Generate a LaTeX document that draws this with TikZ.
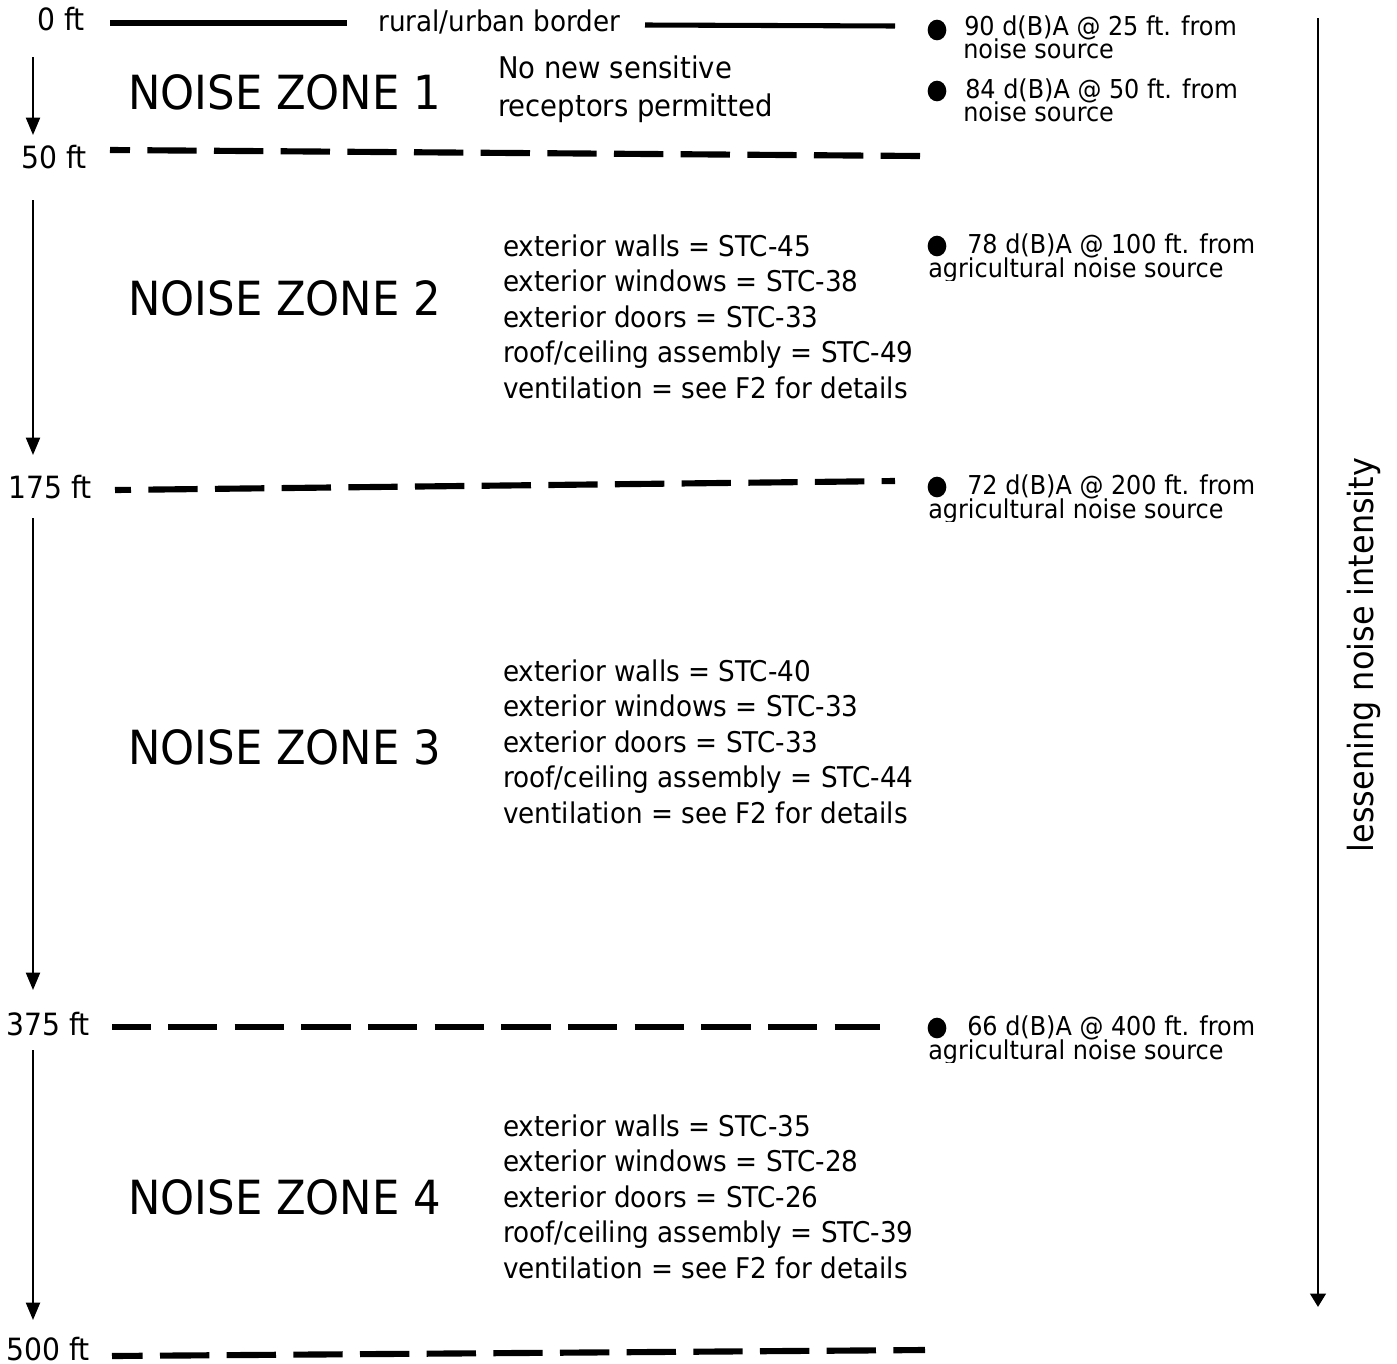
\documentclass[tikz,border=0pt]{standalone}
\usepackage{fontspec}
\setmainfont[FakeStretch=0.92]{DejaVu Sans}
\usetikzlibrary{arrows.meta,shapes.geometric}
\tikzset{
  txt/.style={anchor=base west,inner sep=0pt,font=\fontsize{21.4}{26.6}\selectfont},
  ftlbl/.style={anchor=base east,inner sep=0pt,font=\fontsize{23}{26.6}\selectfont},
  zone/.style={anchor=base west,inner sep=0pt,font=\fontsize{35.3}{40}\selectfont},
  btxt/.style={anchor=base west,inner sep=0pt,font=\fontsize{19.5}{17.2}\selectfont},
  bul/.style={ellipse,fill=black,inner sep=0pt,minimum width=14pt,minimum height=15.5pt},
  border/.style={line width=3.8pt},
  zline/.style={line width=4.6pt,dash pattern=on 37pt off 13pt},
  downarrow/.style={line width=1.5pt,-{Triangle[width=10.5pt,length=13pt]}},
}
\begin{document}
\begin{tikzpicture}[x=0.75pt,y=-0.75pt]
\useasboundingbox (0,0) rectangle (1397,1364);

% distance labels
\node[ftlbl] (f0) at (85,30) {0 ft};
\node[ftlbl] (f50) at (87,168) {50 ft};
\node[ftlbl] (f175) at (92,498) {175 ft};
\node[ftlbl] (f375) at (90,1035) {375 ft};
\node[ftlbl] (f500) at (90,1360) {500 ft};

% border line
\node[txt] (rub) at (378,31) {rural/urban border};
\coordinate (b1) at (110,23); \coordinate (b2) at (347,23);
\coordinate (b3) at (645,25); \coordinate (b4) at (895,26);
\draw[border] (b1) -- (b2);
\draw[border] (b3) -- (b4);

% dashed zone boundaries
\coordinate (l50a) at (110,150); \coordinate (l50b) at (920,156);
\coordinate (l175a) at (115,490); \coordinate (l175b) at (895,481);
\coordinate (l375a) at (112,1027); \coordinate (l375b) at (880,1027);
\coordinate (l500a) at (112,1356); \coordinate (l500b) at (925,1350);
\draw[zline,dash phase=22pt] (l50a) -- (l50b);
\draw[zline,dash phase=25pt] (l175a) -- (l175b);
\draw[zline,dash phase=8pt] (l375a) -- (l375b);
\draw[zline,dash phase=14pt] (l500a) -- (l500b);

% left arrows
\coordinate (a1s) at (33,57);   \coordinate (a1e) at (33,135);
\coordinate (a2s) at (33,200);  \coordinate (a2e) at (33,455);
\coordinate (a3s) at (33,518);  \coordinate (a3e) at (33,990);
\coordinate (a4s) at (33,1050); \coordinate (a4e) at (33,1320);
\draw[downarrow] (a1s) -- (a1e);
\draw[downarrow] (a2s) -- (a2e);
\draw[downarrow] (a3s) -- (a3e);
\draw[downarrow] (a4s) -- (a4e);

% zone titles
\node[zone] (z1) at (128,109) {NOISE ZONE 1};
\node[zone] (z2) at (128,315) {NOISE ZONE 2};
\node[zone] (z3) at (128,764) {NOISE ZONE 3};
\node[zone] (z4) at (128,1214) {NOISE ZONE 4};

% zone descriptions
\node[txt,font=\fontsize{22.4}{26.6}\selectfont] (d1a) at (498,78) {No new sensitive};
\node[txt,font=\fontsize{22.4}{26.6}\selectfont] (d1b) at (498,116) {receptors permitted};

\foreach \y/\w/\wi/\d/\r [count=\i] in {256/45/38/33/49, 681/40/33/33/44, 1136/35/28/26/39}{
  \node[txt] (s\i a) at (503,\y) {exterior walls = STC-\w};
  \node[txt] (s\i b) at (503,\y+35.5) {exterior windows = STC-\wi};
  \node[txt] (s\i c) at (503,\y+71) {exterior doors = STC-\d};
  \node[txt] (s\i d) at (503,\y+106.5) {roof/ceiling assembly = STC-\r};
  \node[txt] (s\i e) at (503,\y+142) {ventilation = see F2 for details};
}

% right column bullets
\node[bul] (p1) at (937,30) {};
\node[btxt] (t1a) at (964,35) {90 d(B)A @ 25 ft. from};
\node[btxt] (t1b) at (963,58) {noise source};
\node[bul] (p2) at (937,91) {};
\node[btxt] (t2a) at (965,98) {84 d(B)A @ 50 ft. from};
\node[btxt] (t2b) at (963,121) {noise source};

\begin{scope}
\clip (900,200) rectangle (1300,280);
\node[bul] (p3) at (937,246) {};
\node[btxt] (t3a) at (967,253) {78 d(B)A @ 100 ft. from};
\node[btxt] (t3b) at (928,277) {agricultural noise source};
\end{scope}
\begin{scope}
\clip (900,440) rectangle (1300,521);
\node[bul] (p4) at (937,487) {};
\node[btxt] (t4a) at (967,494) {72 d(B)A @ 200 ft. from};
\node[btxt] (t4b) at (928,518) {agricultural noise source};
\end{scope}
\begin{scope}
\clip (900,990) rectangle (1300,1062);
\node[bul] (p5) at (937,1028) {};
\node[btxt] (t5a) at (967,1035) {66 d(B)A @ 400 ft. from};
\node[btxt] (t5b) at (928,1059) {agricultural noise source};
\end{scope}

% right arrow
\coordinate (rs) at (1318,18); \coordinate (re) at (1318,1307);
\draw[line width=2.2pt,-{Triangle[width=11.5pt,length=10pt]}] (rs) -- (re);
\node[rotate=90,inner sep=0pt,font=\fontsize{26}{30}\selectfont] (less) at (1364,655) {lessening noise intensity};
\end{tikzpicture}
\end{document}
